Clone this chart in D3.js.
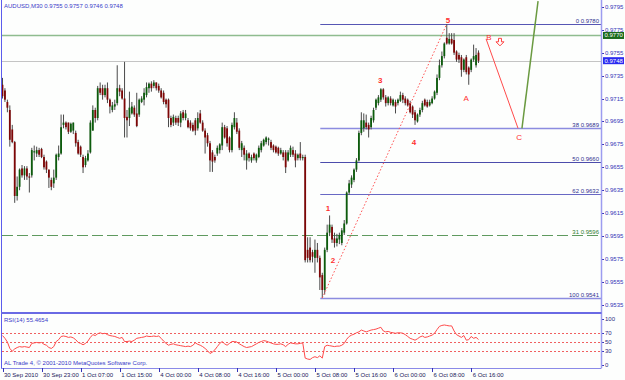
<!DOCTYPE html>
<html>
<head>
<meta charset="utf-8">
<script src="https://cdnjs.cloudflare.com/ajax/libs/d3/7.8.5/d3.min.js"></script>
<style>
body { margin: 0; background: #fff; }
text { font-family: "Liberation Sans", Arial, sans-serif; }
</style>
</head>
<body>
<div id="chart"></div>
<script>
var width = 625, height = 380;

var title = "AUDUSD,M30  0.9755 0.9757 0.9746 0.9748";
var bidPrice = 0.9748;
var alertPrice = 0.9770;

// 30 min bars, 30 Sep 15:00 .. 6 Oct 17:30
var open = [
0.9727,0.9722,0.9712,0.9705,0.9688,0.9677,0.9630,0.9638,0.9654,0.9648,
0.9654,0.9647,0.9648,0.9668,0.9667,0.9670,0.9671,0.9664,0.9660,0.9653,
0.9644,0.9641,0.9646,0.9664,0.9667,0.9692,0.9694,0.9694,0.9686,0.9687,
0.9685,0.9677,0.9673,0.9664,0.9657,0.9661,0.9668,0.9687,0.9705,0.9698,
0.9724,0.9724,0.9718,0.9724,0.9714,0.9705,0.9708,0.9711,0.9724,0.9722,
0.9715,0.9699,0.9698,0.9702,0.9707,0.9702,0.9701,0.9712,0.9714,0.9718,
0.9724,0.9728,0.9726,0.9729,0.9726,0.9722,0.9720,0.9714,0.9714,0.9698,
0.9694,0.9698,0.9698,0.9694,0.9703,0.9698,0.9696,0.9694,0.9692,0.9696,
0.9689,0.9702,0.9694,0.9687,0.9683,0.9676,0.9668,0.9664,0.9667,0.9670,
0.9674,0.9690,0.9689,0.9681,0.9670,0.9690,0.9694,0.9687,0.9670,0.9672,
0.9661,0.9667,0.9661,0.9667,0.9661,0.9664,0.9670,0.9674,0.9677,0.9679,
0.9677,0.9674,0.9673,0.9672,0.9667,0.9668,0.9668,0.9661,0.9666,0.9670,
0.9667,0.9663,0.9667,0.9663,0.9664,0.9583,0.9585,0.9581,0.9576,0.9583,
0.9576,0.9561,0.9548,0.9583,0.9598,0.9603,0.9593,0.9589,0.9592,0.9589,
0.9598,0.9606,0.9633,0.9640,0.9644,0.9653,0.9661,0.9685,0.9689,0.9694,
0.9692,0.9690,0.9696,0.9707,0.9711,0.9714,0.9723,0.9716,0.9711,0.9715,
0.9709,0.9712,0.9711,0.9713,0.9718,0.9715,0.9714,0.9711,0.9708,0.9703,
0.9695,0.9701,0.9705,0.9714,0.9712,0.9709,0.9711,0.9715,0.9720,0.9733,
0.9744,0.9752,0.9768,0.9763,0.9767,0.9766,0.9756,0.9753,0.9751,0.9740,
0.9751,0.9742,0.9740,0.9749,0.9744,0.9755];
var high = [
0.9733,0.9724,0.9714,0.9709,0.9692,0.9678,0.9647,0.9654,0.9657,0.9656,
0.9656,0.9650,0.9672,0.9674,0.9673,0.9672,0.9672,0.9666,0.9661,0.9653,
0.9646,0.9653,0.9667,0.9674,0.9701,0.9701,0.9695,0.9694,0.9694,0.9694,
0.9687,0.9679,0.9674,0.9666,0.9665,0.9670,0.9696,0.9709,0.9707,0.9726,
0.9729,0.9727,0.9727,0.9729,0.9715,0.9712,0.9714,0.9744,0.9727,0.9724,
0.9747,0.9705,0.9721,0.9712,0.9709,0.9720,0.9715,0.9717,0.9724,0.9729,
0.9729,0.9730,0.9731,0.9729,0.9728,0.9724,0.9722,0.9715,0.9715,0.9700,
0.9701,0.9700,0.9700,0.9704,0.9705,0.9705,0.9698,0.9696,0.9694,0.9698,
0.9703,0.9705,0.9696,0.9689,0.9685,0.9678,0.9670,0.9666,0.9674,0.9676,
0.9694,0.9692,0.9691,0.9682,0.9694,0.9703,0.9698,0.9689,0.9678,0.9674,
0.9670,0.9668,0.9666,0.9668,0.9667,0.9674,0.9678,0.9680,0.9682,0.9681,
0.9679,0.9675,0.9674,0.9673,0.9672,0.9670,0.9670,0.9670,0.9674,0.9673,
0.9670,0.9667,0.9677,0.9666,0.9666,0.9594,0.9594,0.9583,0.9592,0.9589,
0.9578,0.9563,0.9585,0.9605,0.9613,0.9605,0.9598,0.9597,0.9598,0.9602,
0.9609,0.9634,0.9644,0.9648,0.9654,0.9663,0.9687,0.9703,0.9702,0.9701,
0.9694,0.9700,0.9707,0.9715,0.9718,0.9724,0.9724,0.9718,0.9717,0.9717,
0.9715,0.9714,0.9715,0.9721,0.9720,0.9717,0.9715,0.9713,0.9709,0.9705,
0.9702,0.9707,0.9713,0.9715,0.9714,0.9714,0.9717,0.9722,0.9736,0.9749,
0.9756,0.9764,0.9780,0.9772,0.9772,0.9772,0.9757,0.9755,0.9753,0.9750,
0.9753,0.9743,0.9750,0.9762,0.9759,0.9757];
var low = [
0.9715,0.9712,0.9703,0.9673,0.9676,0.9624,0.9626,0.9635,0.9646,0.9644,
0.9644,0.9633,0.9646,0.9661,0.9664,0.9664,0.9663,0.9653,0.9650,0.9637,
0.9635,0.9637,0.9644,0.9661,0.9666,0.9689,0.9688,0.9684,0.9685,0.9684,
0.9673,0.9666,0.9664,0.9650,0.9655,0.9660,0.9667,0.9687,0.9694,0.9696,
0.9718,0.9714,0.9716,0.9711,0.9702,0.9703,0.9705,0.9709,0.9717,0.9714,
0.9681,0.9681,0.9691,0.9701,0.9699,0.9690,0.9699,0.9711,0.9709,0.9716,
0.9720,0.9721,0.9724,0.9722,0.9720,0.9715,0.9710,0.9707,0.9690,0.9690,
0.9691,0.9692,0.9691,0.9690,0.9696,0.9696,0.9689,0.9687,0.9686,0.9683,
0.9687,0.9693,0.9686,0.9667,0.9673,0.9651,0.9651,0.9659,0.9665,0.9667,
0.9670,0.9680,0.9673,0.9668,0.9668,0.9688,0.9684,0.9670,0.9664,0.9661,
0.9653,0.9660,0.9659,0.9661,0.9659,0.9663,0.9668,0.9673,0.9675,0.9674,
0.9670,0.9668,0.9667,0.9665,0.9666,0.9661,0.9650,0.9660,0.9664,0.9664,
0.9655,0.9661,0.9661,0.9661,0.9572,0.9572,0.9572,0.9572,0.9563,0.9572,
0.9548,0.9541,0.9544,0.9581,0.9595,0.9589,0.9585,0.9586,0.9588,0.9587,
0.9596,0.9605,0.9631,0.9637,0.9642,0.9651,0.9660,0.9683,0.9686,0.9688,
0.9681,0.9688,0.9694,0.9705,0.9709,0.9712,0.9714,0.9708,0.9709,0.9709,
0.9708,0.9702,0.9709,0.9712,0.9711,0.9709,0.9708,0.9702,0.9698,0.9692,
0.9694,0.9699,0.9703,0.9708,0.9707,0.9708,0.9710,0.9714,0.9718,0.9731,
0.9742,0.9750,0.9762,0.9762,0.9762,0.9753,0.9747,0.9746,0.9734,0.9738,
0.9736,0.9727,0.9738,0.9747,0.9742,0.9746];
var close = [
0.9717,0.9714,0.9707,0.9679,0.9677,0.9630,0.9638,0.9653,0.9648,0.9654,
0.9647,0.9646,0.9670,0.9669,0.9670,0.9666,0.9664,0.9655,0.9653,0.9646,
0.9638,0.9646,0.9666,0.9667,0.9690,0.9694,0.9690,0.9686,0.9693,0.9694,
0.9676,0.9667,0.9666,0.9655,0.9663,0.9667,0.9694,0.9705,0.9698,0.9724,
0.9720,0.9718,0.9724,0.9714,0.9708,0.9709,0.9710,0.9724,0.9721,0.9715,
0.9698,0.9696,0.9707,0.9708,0.9701,0.9691,0.9714,0.9715,0.9720,0.9725,
0.9728,0.9724,0.9729,0.9724,0.9722,0.9716,0.9712,0.9710,0.9698,0.9692,
0.9699,0.9694,0.9694,0.9702,0.9698,0.9702,0.9690,0.9689,0.9687,0.9687,
0.9698,0.9694,0.9687,0.9681,0.9676,0.9661,0.9660,0.9661,0.9672,0.9675,
0.9690,0.9681,0.9676,0.9670,0.9692,0.9698,0.9686,0.9672,0.9676,0.9666,
0.9667,0.9663,0.9664,0.9663,0.9666,0.9672,0.9676,0.9679,0.9681,0.9680,
0.9672,0.9670,0.9668,0.9667,0.9670,0.9664,0.9655,0.9668,0.9672,0.9666,
0.9661,0.9666,0.9663,0.9664,0.9574,0.9576,0.9574,0.9577,0.9583,0.9576,
0.9559,0.9548,0.9583,0.9598,0.9605,0.9592,0.9589,0.9593,0.9596,0.9600,
0.9606,0.9633,0.9641,0.9646,0.9653,0.9661,0.9685,0.9696,0.9696,0.9690,
0.9688,0.9698,0.9705,0.9714,0.9716,0.9723,0.9716,0.9711,0.9716,0.9711,
0.9714,0.9708,0.9714,0.9718,0.9714,0.9711,0.9709,0.9703,0.9701,0.9696,
0.9701,0.9705,0.9711,0.9709,0.9708,0.9712,0.9715,0.9721,0.9733,0.9744,
0.9752,0.9763,0.9763,0.9767,0.9763,0.9755,0.9749,0.9749,0.9740,0.9749,
0.9738,0.9736,0.9749,0.9752,0.9753,0.9748];

var rsi = [
64,58,50,36,30,35,38,40,39,40, 39,38,47,48,49,48,49,45,43,38,
36,40,51,55,62,63,62,60,61,59, 55,49,47,44,47,52,60,66,64,68,
70,68,69,66,64,63,62,60,58,60, 51,51,52,51,54,58,59,60,61,63,
62,62,63,62,63,58,52,47,43,45, 46,44,43,42,41,40,41,40,43,48,
45,43,40,36,31,25,28,33,40,47, 51,46,43,47,51,51,50,46,43,40,
38,39,40,43,46,49,51,53,52,50, 48,46,45,45,46,44,40,45,48,47,
46,46,47,48,15,13,12,16,18,16, 20,15,40,43,42,41,40,41,41,43,
47,56,62,65,67,70,72,76,74,72, 74,76,77,78,80,82,74,72,73,71,
70,69,70,70,69,66,62,58,56,54, 57,61,63,60,61,63,65,69,77,84,
86,87,86,85,85,74,66,63,60,64, 54,55,62,58,60,55.4654];

var timeLabels = ["30 Sep 2010", "30 Sep 23:00", "1 Oct 07:00", "1 Oct 15:00", "4 Oct 00:00",
  "4 Oct 08:00", "4 Oct 16:00", "5 Oct 00:00", "5 Oct 08:00", "5 Oct 16:00",
  "6 Oct 00:00", "6 Oct 08:00", "6 Oct 16:00"];
var timeLabelBars = [0, 16, 32, 48, 64, 80, 96, 112, 128, 144, 160, 176, 192];
var priceTicks = [0.9795, 0.9775, 0.9755, 0.9735, 0.9715, 0.9695, 0.9675, 0.9655,
  0.9635, 0.9615, 0.9595, 0.9575, 0.9555, 0.9535];
var rsiTicks = [100, 70, 50, 30, 0];
var rsiLevels = [70, 50, 30];

var fibNames = ["0", "38", "50", "62", "100"];
var fibPrices = [0.9780, 0.9689, 0.9660, 0.9632, 0.9541];
var fibStartBar = 131;
var midName = "31", midPrice = 0.9596;

var waveNames = ["1", "2", "3", "4", "5", "A", "B", "C"];
var waveBars = [133.3, 135.4, 154.7, 168.6, 182.5, 189.9, 199.3, 211.6];
var wavePrices = [0.9619, 0.9574, 0.9731, 0.9677, 0.9783, 0.9715, 0.9768, 0.9681];
var impulseBars = [131, 182], impulsePrices = [0.9541, 0.9780];
var corrBars = [198.1, 211.2], corrPrices = [0.9767, 0.9689];
var upBars = [212.8, 219.4], upPrices = [0.9689, 0.9800];
var arrowBar = 203.8, arrowPrice = 0.9764;

var axisX = 601.5, mainBottom = 312, rsiTop = 314, rsiBottom = 368;

var x = d3.scaleLinear().domain([0, 195]).range([2.5, 478.5]);
var y = d3.scaleLinear().domain([0.9541, 0.9780]).range([298, 24]);
var yr = d3.scaleLinear().domain([0, 100]).range([365, 319]);
function py(p) { return Math.round(y(p)) + 0.5; }

var svg = d3.select("#chart").append("svg").attr("width", width).attr("height", height);
svg.append("rect").attr("width", width).attr("height", height).attr("fill", "#fdfefd");

svg.append("clipPath").attr("id", "mainclip").append("rect")
  .attr("x", 2).attr("y", 0).attr("width", axisX - 2).attr("height", mainBottom);

var main = svg.append("g").attr("clip-path", "url(#mainclip)");

// horizontal levels
main.append("line").attr("x1", 2).attr("x2", axisX).attr("y1", py(bidPrice)).attr("y2", py(bidPrice))
  .attr("stroke", "#c4c4c4");
main.append("line").attr("x1", 2).attr("x2", axisX).attr("y1", py(alertPrice)).attr("y2", py(alertPrice))
  .attr("stroke", "#8fbc8f").attr("stroke-width", 1.5);
main.append("line").attr("x1", 2).attr("x2", axisX).attr("y1", py(midPrice)).attr("y2", py(midPrice))
  .attr("stroke", "#5f9a5f").attr("stroke-dasharray", "11,4");

var fibColors = ["#5656b4", "#8c8ce0", "#4c4cac", "#6868c4", "#8c8ce0"];
main.selectAll("line.fib").data(fibPrices).join("line").attr("class", "fib")
  .attr("x1", x(fibStartBar) - 2).attr("x2", axisX)
  .attr("y1", d => py(d)).attr("y2", d => py(d))
  .attr("stroke", (d, i) => fibColors[i])
  .attr("stroke-width", (d, i) => (i == 1 || i == 4) ? 1.6 : 1);
main.selectAll("text.fib").data(fibPrices).join("text").attr("class", "fib")
  .attr("x", 599).attr("y", d => py(d) - 1.5).attr("text-anchor", "end")
  .attr("font-size", 6).attr("fill", "#303090")
  .text((d, i) => fibNames[i] + " " + d.toFixed(4));
main.append("text").attr("x", 599).attr("y", py(midPrice) - 1.5).attr("text-anchor", "end")
  .attr("font-size", 6).attr("fill", "#2e7d2e").text(midName + " " + midPrice.toFixed(4));

// candles
var bars = d3.range(open.length);
main.selectAll("line.wick").data(bars).join("line").attr("class", "wick")
  .attr("x1", i => x(i)).attr("x2", i => x(i))
  .attr("y1", i => y(high[i])).attr("y2", i => y(low[i]))
  .attr("stroke", "#4a4a4a").attr("stroke-width", 1);
main.selectAll("rect.body").data(bars).join("rect").attr("class", "body")
  .attr("x", i => x(i) - 0.9).attr("width", 1.8)
  .attr("y", i => y(Math.max(open[i], close[i])))
  .attr("height", i => Math.max(1, Math.abs(y(open[i]) - y(close[i]))))
  .attr("fill", i => close[i] >= open[i] ? "#0c5c0c" : "#7e0606");

// wave markup
main.append("line")
  .attr("x1", x(impulseBars[0])).attr("y1", y(impulsePrices[0]))
  .attr("x2", x(impulseBars[1])).attr("y2", y(impulsePrices[1]))
  .attr("stroke", "#ff5050").attr("stroke-dasharray", "1.5,2");
main.append("line")
  .attr("x1", x(corrBars[0])).attr("y1", y(corrPrices[0]))
  .attr("x2", x(corrBars[1])).attr("y2", y(corrPrices[1]))
  .attr("stroke", "#ff4a4a");
main.append("line")
  .attr("x1", x(upBars[0])).attr("y1", y(upPrices[0]))
  .attr("x2", x(upBars[1])).attr("y2", y(upPrices[1]))
  .attr("stroke", "#6a9a40").attr("stroke-width", 1.5);
main.selectAll("text.wave").data(waveNames).join("text").attr("class", "wave")
  .attr("x", (d, i) => x(waveBars[i])).attr("y", (d, i) => y(wavePrices[i]))
  .attr("text-anchor", "middle").attr("dominant-baseline", "central")
  .attr("font-size", 8)
  .attr("font-weight", (d, i) => i < 5 ? "bold" : "normal")
  .attr("fill", "#ff3030").text(d => d);

// hollow down arrow next to B
var ax = x(arrowBar), ay = y(arrowPrice);
main.append("path")
  .attr("d", "M" + (ax - 1.5) + "," + (ay - 4) + "h3v3.5h2.5l-4,4l-4,-4h2.5z")
  .attr("fill", "#fdfefd").attr("stroke", "#ff4040").attr("stroke-width", 1);

svg.append("text").attr("x", 4).attr("y", 8).attr("font-size", 6).attr("fill", "#3a3ac8").text(title);

// price axis
svg.selectAll("text.pt").data(priceTicks).join("text").attr("class", "pt")
  .attr("x", 605).attr("y", d => y(d)).attr("dominant-baseline", "central")
  .attr("font-size", 6).attr("fill", "#3434b8").text(d => d.toFixed(4));
svg.selectAll("line.pt").data(priceTicks).join("line").attr("class", "pt")
  .attr("x1", axisX).attr("x2", axisX + 2.5).attr("y1", d => py(d)).attr("y2", d => py(d))
  .attr("stroke", "#3434b8");

var boxes = [[alertPrice, "#1b6a1b"], [bidPrice, "#2a2af0"]];
boxes.forEach(function(b) {
  svg.append("rect").attr("x", axisX + 1.5).attr("y", y(b[0]) - 3.5).attr("width", 21).attr("height", 7).attr("fill", b[1]);
  svg.append("text").attr("x", axisX + 3).attr("y", y(b[0])).attr("dominant-baseline", "central")
    .attr("font-size", 6).attr("fill", "#fff").text(b[0].toFixed(4));
});

// RSI window
var rsiG = svg.append("g");
rsiG.selectAll("line.lvl").data(rsiLevels).join("line").attr("class", "lvl")
  .attr("x1", 2).attr("x2", axisX).attr("y1", d => Math.round(yr(d)) + 0.5).attr("y2", d => Math.round(yr(d)) + 0.5)
  .attr("stroke", "#f06060").attr("stroke-dasharray", "2,2");
rsiG.append("path").datum(rsi)
  .attr("d", d3.line().x((d, i) => x(i)).y(d => yr(d)))
  .attr("fill", "none").attr("stroke", "#ff4a4a").attr("stroke-width", 1);
rsiG.append("text").attr("x", 4).attr("y", 322).attr("font-size", 6).attr("fill", "#3a3ac8")
  .text("RSI(14) " + rsi[rsi.length - 1].toFixed(4));
rsiG.append("text").attr("x", 4).attr("y", 365).attr("font-size", 6).attr("fill", "#3a3ac8")
  .text("AL Trade 4, \u00a9 2001-2010 MetaQuotes Software Corp.");
rsiG.selectAll("text.rt").data(rsiTicks).join("text").attr("class", "rt")
  .attr("x", 605).attr("y", d => yr(d)).attr("dominant-baseline", "central")
  .attr("font-size", 6).attr("fill", "#2a2a80").text(d => d);
rsiG.selectAll("line.rt").data(rsiTicks).join("line").attr("class", "rt")
  .attr("x1", axisX).attr("x2", axisX + 2.5).attr("y1", d => Math.round(yr(d)) + 0.5).attr("y2", d => Math.round(yr(d)) + 0.5)
  .attr("stroke", "#3434b8");

// frame
svg.append("line").attr("x1", 1.5).attr("x2", 1.5).attr("y1", 0).attr("y2", rsiBottom).attr("stroke", "#5c5cec");
svg.append("line").attr("x1", axisX).attr("x2", axisX).attr("y1", 0).attr("y2", rsiBottom).attr("stroke", "#9c9cf0").attr("stroke-width", 1.5);
svg.append("line").attr("x1", 1).attr("x2", axisX).attr("y1", 313).attr("y2", 313).attr("stroke", "#6a6ae4").attr("stroke-width", 2);
svg.append("line").attr("x1", 1).attr("x2", axisX).attr("y1", rsiBottom + 0.5).attr("y2", rsiBottom + 0.5).attr("stroke", "#8a8ae8");

// time axis
svg.selectAll("line.tt").data(timeLabelBars).join("line").attr("class", "tt")
  .attr("x1", d => Math.round(x(d)) + 0.5).attr("x2", d => Math.round(x(d)) + 0.5)
  .attr("y1", rsiBottom).attr("y2", rsiBottom + 4).attr("stroke", "#3434b8");
svg.selectAll("text.tt").data(timeLabels).join("text").attr("class", "tt")
  .attr("x", (d, i) => x(timeLabelBars[i]) + 1.5).attr("y", 377)
  .attr("font-size", 6).attr("fill", "#20205a").text(d => d);
</script>
</body>
</html>
